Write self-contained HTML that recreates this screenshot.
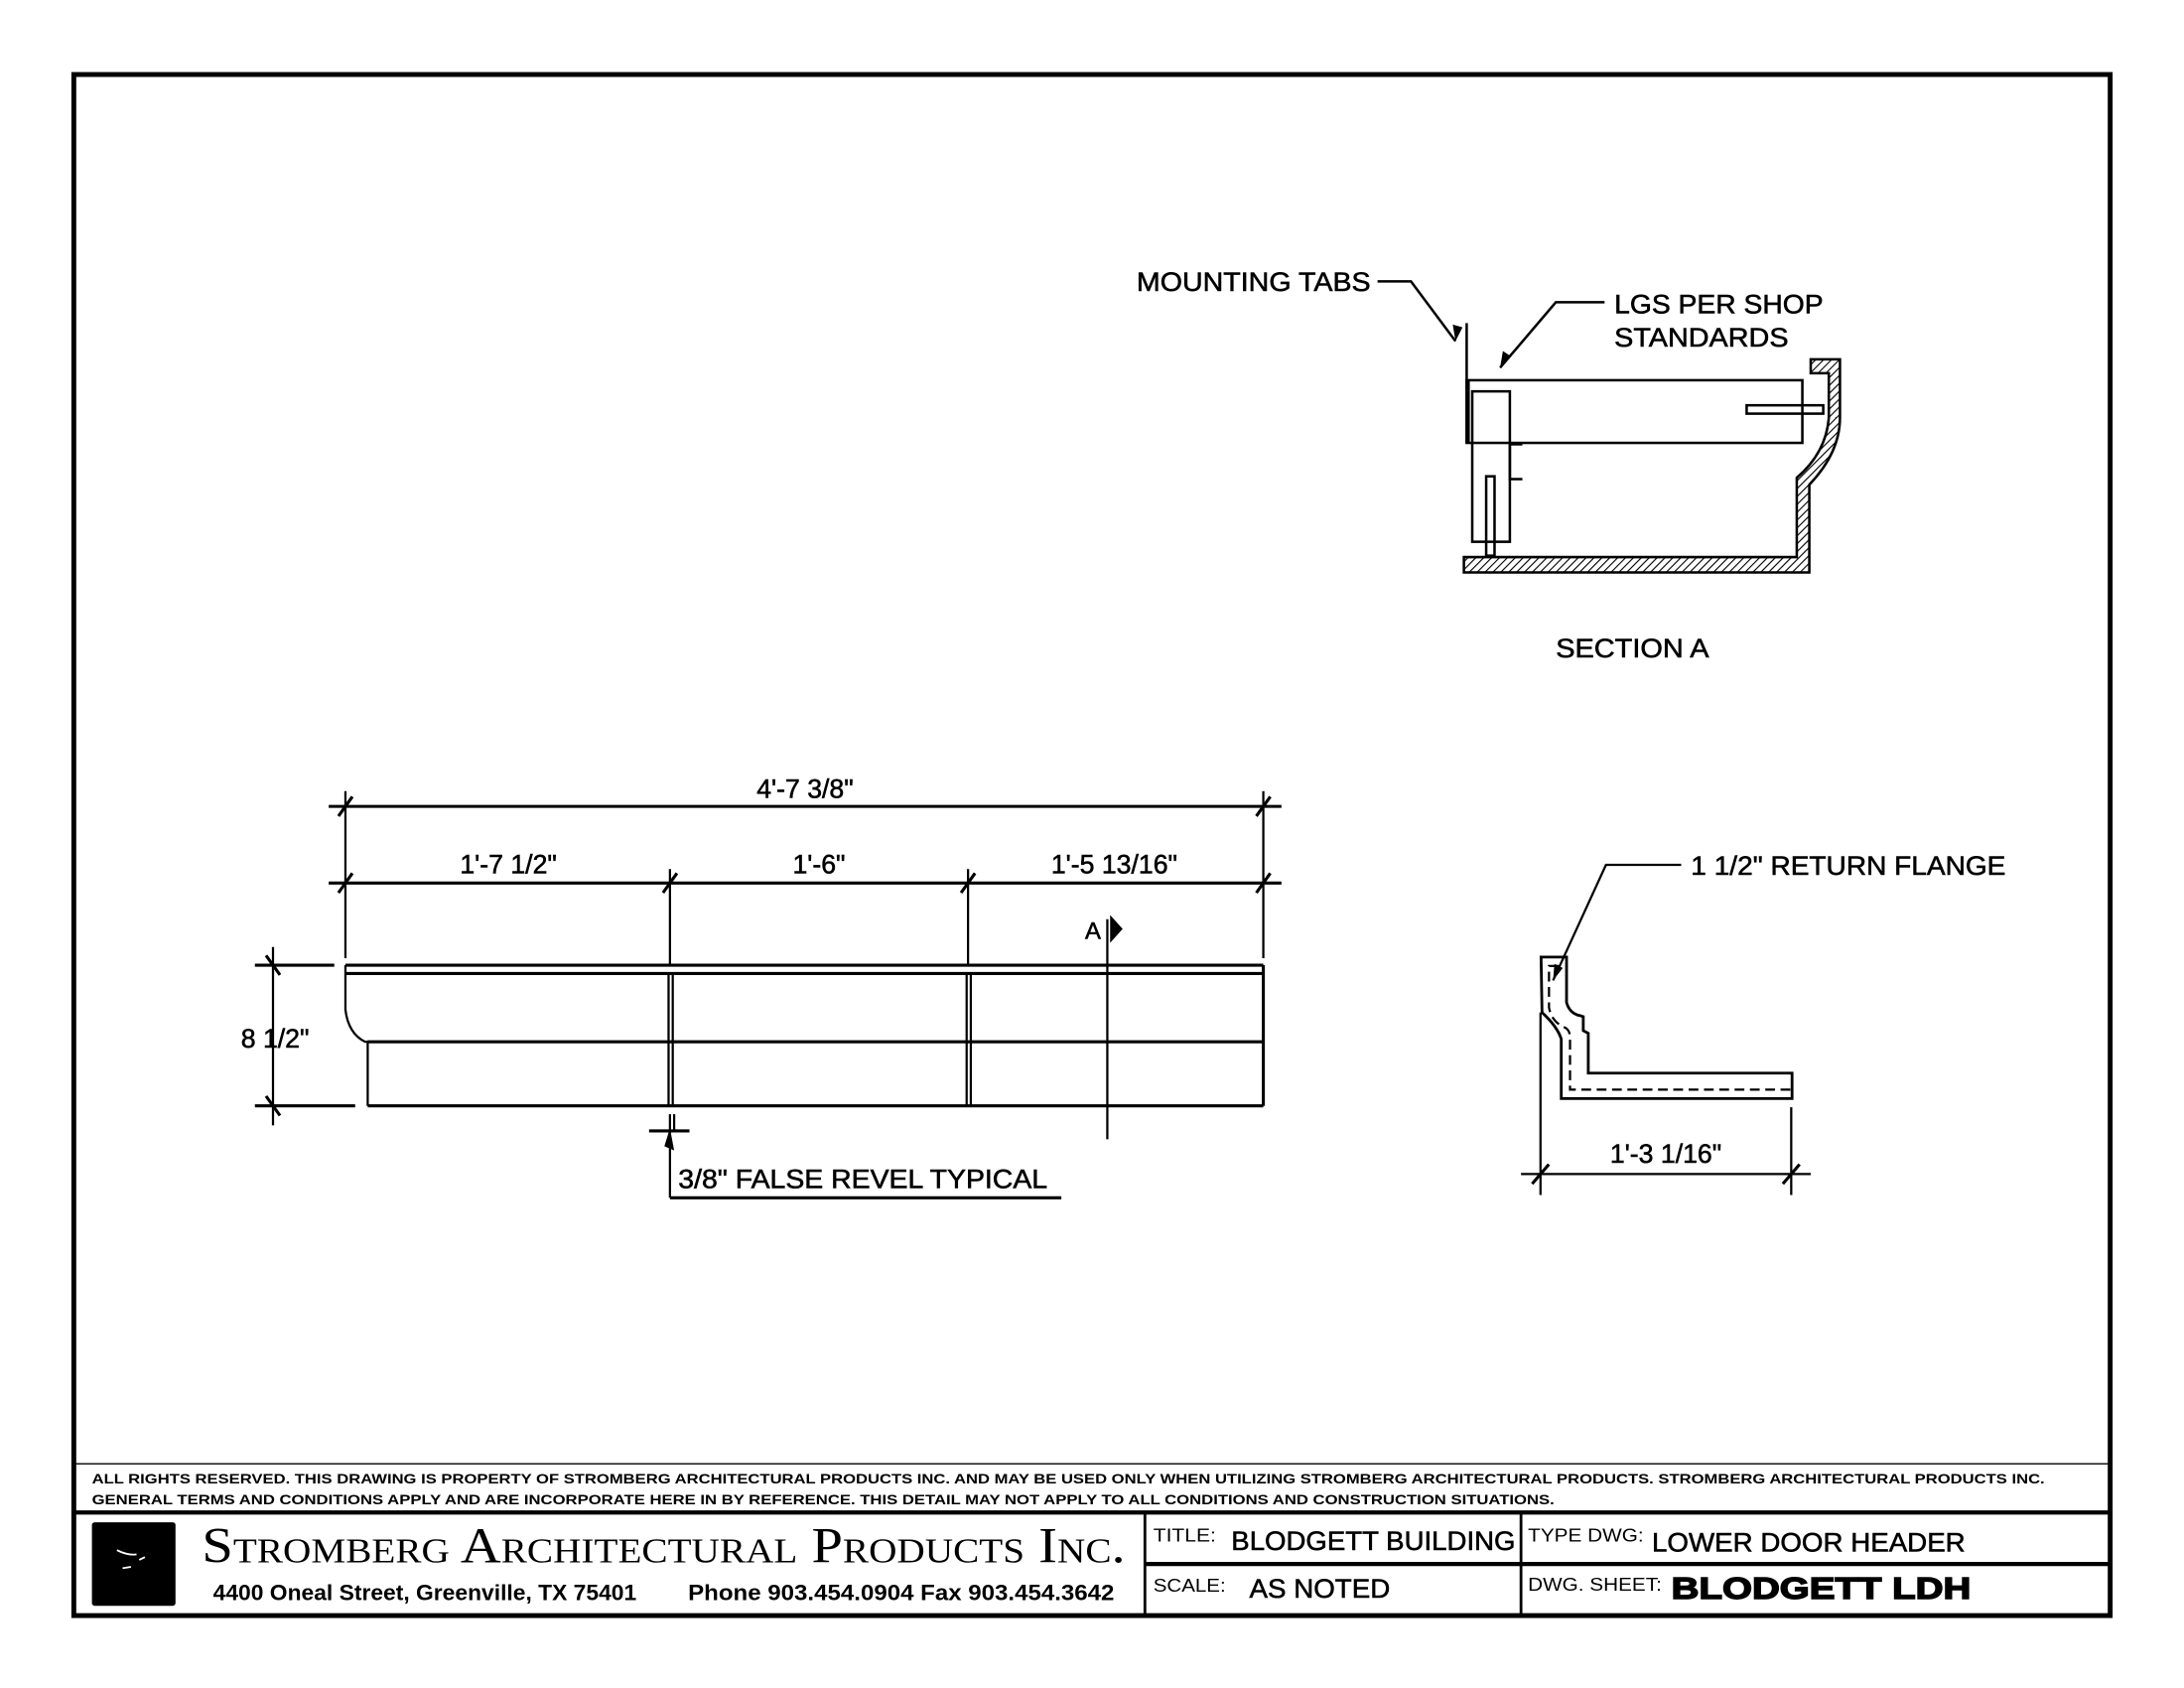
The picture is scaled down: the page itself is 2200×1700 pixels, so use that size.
<!DOCTYPE html>
<html><head><meta charset="utf-8"><style>
html,body{margin:0;padding:0;background:#fff;}
svg{display:block;}
text{font-family:"Liberation Sans",Arial,sans-serif;fill:#000;}
.b{stroke:#000;stroke-width:0.4;}
</style></head><body>
<svg width="2200" height="1700" viewBox="0 0 1568 1212" preserveAspectRatio="none" xmlns="http://www.w3.org/2000/svg">
<defs>
<pattern id="h" patternUnits="userSpaceOnUse" width="4" height="4" patternTransform="rotate(45)">
<rect width="4" height="4" fill="#fff"/><line x1="0" y1="0" x2="0" y2="4" stroke="#000" stroke-width="1.6"/>
</pattern>
</defs>
<rect width="1568" height="1212" fill="#fff"/>
<!-- frame -->
<rect x="53" y="53.5" width="1462" height="1106.5" fill="none" stroke="#000" stroke-width="3.5"/>
<line x1="53" y1="1051" x2="1515" y2="1051" stroke="#000" stroke-width="1"/>
<line x1="53" y1="1086" x2="1515" y2="1086" stroke="#000" stroke-width="3"/>
<line x1="822" y1="1086" x2="822" y2="1160" stroke="#000" stroke-width="2"/>
<line x1="1092" y1="1086" x2="1092" y2="1160" stroke="#000" stroke-width="2"/>
<line x1="822" y1="1123" x2="1515" y2="1123" stroke="#000" stroke-width="3"/>
<text x="66" y="1065" font-size="10" font-weight="bold" textLength="1402" lengthAdjust="spacingAndGlyphs">ALL RIGHTS RESERVED. THIS DRAWING IS PROPERTY OF STROMBERG ARCHITECTURAL PRODUCTS INC. AND MAY BE USED ONLY WHEN UTILIZING STROMBERG ARCHITECTURAL PRODUCTS.  STROMBERG ARCHITECTURAL PRODUCTS INC.</text>
<text x="66" y="1080" font-size="10" font-weight="bold" textLength="1050" lengthAdjust="spacingAndGlyphs">GENERAL TERMS AND CONDITIONS APPLY AND ARE INCORPORATE HERE IN BY REFERENCE.  THIS DETAIL MAY NOT APPLY TO ALL CONDITIONS AND CONSTRUCTION SITUATIONS.</text>
<rect x="66" y="1093" width="60" height="60" rx="2" fill="#000"/>
<path d="M84 1113 q8 4 14 3 M88 1126 l6 -1 M100 1120 l4 -2" stroke="#fff" stroke-width="1.3" fill="none"/>
<text x="145" y="1122" font-size="36" style="font-family:'Liberation Serif',serif;font-variant:small-caps" textLength="663" lengthAdjust="spacingAndGlyphs">Stromberg Architectural Products Inc.</text>
<text x="153" y="1149" font-size="16" font-weight="bold" textLength="304" lengthAdjust="spacingAndGlyphs">4400 Oneal Street, Greenville, TX  75401</text>
<text x="494" y="1149" font-size="16" font-weight="bold" textLength="306" lengthAdjust="spacingAndGlyphs">Phone 903.454.0904   Fax 903.454.3642</text>
<text x="828" y="1107" font-size="13" textLength="45" lengthAdjust="spacingAndGlyphs">TITLE:</text>
<text class="b" x="884" y="1113" font-size="19" textLength="204" lengthAdjust="spacingAndGlyphs">BLODGETT BUILDING</text>
<text x="1097" y="1107" font-size="13" textLength="83" lengthAdjust="spacingAndGlyphs">TYPE DWG:</text>
<text class="b" x="1186" y="1114" font-size="19" textLength="225" lengthAdjust="spacingAndGlyphs">LOWER DOOR HEADER</text>
<text x="828" y="1143" font-size="13" textLength="52" lengthAdjust="spacingAndGlyphs">SCALE:</text>
<text class="b" x="897" y="1147" font-size="19" textLength="101" lengthAdjust="spacingAndGlyphs">AS NOTED</text>
<text x="1097" y="1142" font-size="13" textLength="96" lengthAdjust="spacingAndGlyphs">DWG. SHEET:</text>
<text x="1200" y="1148" font-size="22" font-weight="bold" stroke="#000" stroke-width="1" textLength="215" lengthAdjust="spacingAndGlyphs">BLODGETT LDH</text>

<!-- SECTION A -->
<g stroke="#000" fill="none" stroke-width="1.8">
<polyline points="989,202 1013,202 1045,245"/>
<line x1="1053" y1="232" x2="1053" y2="318"/>
<polyline points="1152,217 1117,217 1077,264"/>
<rect x="1053" y="273" width="241" height="45"/>
<line x1="1054" y1="273" x2="1054" y2="318" stroke-width="2.5"/>
<rect x="1057" y="281" width="27" height="108"/>
<polyline points="1084,319 1093,319"/><polyline points="1084,319 1084,344 1093,344"/>
<rect x="1067" y="342" width="6" height="57"/>
<rect x="1254" y="291" width="55" height="6"/>
<path d="M1051 411 L1299 411 L1299 348 Q1321 325 1321 300 L1321 258 L1300 258 L1300 268 L1313 268 L1313 300 Q1311 325 1290 343 L1290 400 L1051 400 Z" fill="url(#h)"/>
</g>
<path d="M1045 245 l-2 -12 l7 2 Z" fill="#000"/>
<path d="M1077 264 l2 -12 l6 4 Z" fill="#000"/>
<text class="b" x="816" y="209" font-size="19" textLength="168" lengthAdjust="spacingAndGlyphs">MOUNTING TABS</text>
<text class="b" x="1159" y="225" font-size="19" textLength="150" lengthAdjust="spacingAndGlyphs">LGS PER SHOP</text>
<text class="b" x="1159" y="249" font-size="19" textLength="125" lengthAdjust="spacingAndGlyphs">STANDARDS</text>
<text class="b" x="1117" y="472" font-size="19" textLength="110" lengthAdjust="spacingAndGlyphs">SECTION A</text>

<!-- ELEVATION -->
<g stroke="#000" fill="none" stroke-width="1.6">
<line x1="236" y1="579" x2="920" y2="579" stroke-width="2.2"/>
<line x1="236" y1="634" x2="920" y2="634" stroke-width="2.2"/>
<line x1="248" y1="568" x2="248" y2="688"/>
<line x1="907" y1="568" x2="907" y2="688"/>
<line x1="481" y1="624" x2="481" y2="693"/>
<line x1="695" y1="624" x2="695" y2="693"/>
<g stroke-width="2.2">
<line x1="243" y1="586" x2="253" y2="572"/><line x1="902" y1="586" x2="912" y2="572"/>
<line x1="243" y1="641" x2="253" y2="627"/><line x1="476" y1="641" x2="486" y2="627"/>
<line x1="690" y1="641" x2="700" y2="627"/><line x1="902" y1="641" x2="912" y2="627"/>
</g>
<line x1="248" y1="693" x2="907" y2="693" stroke-width="2.2"/>
<line x1="248" y1="699" x2="907" y2="699" stroke-width="2.2"/>
<line x1="264" y1="748" x2="907" y2="748" stroke-width="2.2"/>
<line x1="264" y1="794" x2="907" y2="794" stroke-width="2.2"/>
<path d="M248 693 L248 725 Q250 742 262 748 L264 748 L264 794"/>
<line x1="907" y1="693" x2="907" y2="794" stroke-width="2.2"/>
<line x1="480" y1="699" x2="480" y2="794"/><line x1="483" y1="699" x2="483" y2="794"/>
<line x1="694" y1="699" x2="694" y2="794"/><line x1="697" y1="699" x2="697" y2="794"/>
<line x1="795" y1="660" x2="795" y2="818"/>
<line x1="196" y1="680" x2="196" y2="808"/>
<line x1="183" y1="693" x2="240" y2="693" stroke-width="2.2"/>
<line x1="183" y1="794" x2="255" y2="794" stroke-width="2.2"/>
<line x1="191" y1="686" x2="201" y2="700" stroke-width="2.2"/>
<line x1="191" y1="787" x2="201" y2="801" stroke-width="2.2"/>
<line x1="466" y1="812" x2="495" y2="812" stroke-width="2.2"/>
<line x1="481" y1="800" x2="481" y2="860"/>
<line x1="484" y1="800" x2="484" y2="812"/>
<line x1="481" y1="860" x2="762" y2="860" stroke-width="2.2"/>
</g>
<path d="M477 823 L481 810 L484 826 Z" fill="#000"/>
<path d="M797 657 L806 667 L797 677 Z" fill="#000"/>
<text class="b" x="779" y="674" font-size="17">A</text>
<text class="b" x="578" y="573" font-size="19" text-anchor="middle">4'-7 3/8"</text>
<text class="b" x="365" y="627" font-size="19" text-anchor="middle">1'-7 1/2"</text>
<text class="b" x="588" y="627" font-size="19" text-anchor="middle">1'-6"</text>
<text class="b" x="800" y="627" font-size="19" text-anchor="middle">1'-5 13/16"</text>
<text class="b" x="222" y="752" font-size="19" text-anchor="end">8 1/2"</text>
<text class="b" x="487" y="853" font-size="19" textLength="265" lengthAdjust="spacingAndGlyphs">3/8" FALSE REVEL TYPICAL</text>

<!-- RETURN FLANGE -->
<g stroke="#000" fill="none" stroke-width="2">
<polyline points="1207,621 1153,621 1115,704" stroke-width="1.6"/>
<path d="M1106.4 687.2 L1124.7 687.2 L1124.7 719.8 Q1127 728 1134.7 729.3 L1136.7 730 L1136.7 740 L1140.3 741.9 L1140.3 770.5 L1286.6 770.5 L1286.6 788.8 L1120.9 788.8 L1120.9 746 Q1118 737 1107.1 727 Z"/>
<path d="M1119 693.6 L1112.1 693.6 L1112.1 723.4 Q1114 734 1124 738 Q1127.2 740 1127.2 745 L1127.2 782.4 L1286.6 782.4" stroke-dasharray="7,4" stroke-width="1.6"/>
<line x1="1106" y1="727" x2="1106" y2="858" stroke-width="1.6"/>
<line x1="1286" y1="795" x2="1286" y2="858" stroke-width="1.6"/>
<line x1="1092" y1="843" x2="1300" y2="843" stroke-width="1.6"/>
<line x1="1100" y1="850" x2="1112" y2="836" stroke-width="2.2"/>
<line x1="1280" y1="850" x2="1292" y2="836" stroke-width="2.2"/>
</g>
<path d="M1115 704 L1116 692 L1122 695 Z" fill="#000"/>
<text class="b" x="1214" y="628" font-size="19" textLength="226" lengthAdjust="spacingAndGlyphs">1 1/2" RETURN FLANGE</text>
<text class="b" x="1196" y="835" font-size="19" text-anchor="middle">1'-3 1/16"</text>
</svg>
</body></html>
